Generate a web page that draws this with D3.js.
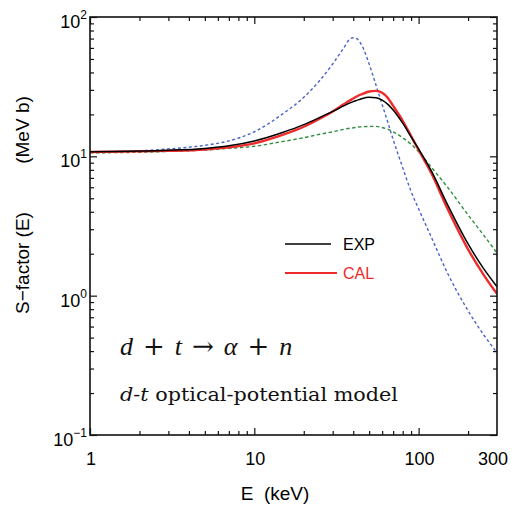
<!DOCTYPE html>
<html>
<head>
<meta charset="utf-8">
<script src="https://cdn.jsdelivr.net/npm/d3@7"></script>
<style>
  body { margin: 0; background: #fff; }
  svg { display: block; }
</style>
</head>
<body>
<svg id="chart" width="530" height="506"></svg>
<script>
// Centre-of-mass energy grid (keV)
const energy = [1, 2, 3, 5, 7, 10, 15, 20, 25, 30, 35, 38, 40, 42, 45, 50, 55, 60, 65, 70, 80, 90, 100, 120, 150, 200, 250, 300];

// S-factor (MeV b): experimental fit
const expS = [10.8, 10.9, 11.05, 11.4, 11.9, 12.9, 14.9, 16.9, 19.0, 21.0, 23.0, 24.1, 24.7, 25.2, 25.9, 26.5, 26.3, 25.3, 23.6, 21.5, 17.3, 13.8, 11.3, 7.8, 4.5, 2.35, 1.55, 1.16];
// S-factor (MeV b): optical-potential calculation
const calS = [10.75, 10.85, 10.95, 11.2, 11.6, 12.4, 14.3, 16.3, 18.6, 21.0, 23.6, 25.1, 26.0, 26.9, 27.9, 29.2, 29.5, 28.6, 26.2, 23.0, 18.0, 14.0, 11.1, 7.5, 4.2, 2.15, 1.40, 1.03];
// Dashed comparison curves
const blueS = [10.75, 10.95, 11.3, 12.0, 12.9, 15.0, 20.3, 26.5, 35, 46, 60, 69, 71, 70, 63, 46, 32.5, 23.5, 17.5, 13.2, 8.3, 5.6, 4.2, 2.6, 1.45, 0.78, 0.52, 0.39];
const greenS = [10.6, 10.7, 10.85, 11.1, 11.4, 11.8, 12.8, 13.6, 14.4, 15.0, 15.6, 15.9, 16.0, 16.2, 16.3, 16.4, 16.4, 16.1, 15.6, 15.0, 13.6, 12.2, 10.8, 8.3, 6.0, 3.8, 2.7, 2.02];

// Axis ticks
const xMajorTicks = [1, 10, 100];
const xMinorTicks = [2, 3, 4, 5, 6, 7, 8, 9, 20, 30, 40, 50, 60, 70, 80, 90, 200];
const xTickLabels = [{ v: 1, t: "1" }, { v: 10, t: "10" }, { v: 100, t: "100" }, { v: 300, t: "300" }];
const yMajorTicks = [0.1, 1, 10, 100];
const yMinorTicks = [];
[0.1, 1, 10].forEach(d => { for (let k = 2; k <= 9; k++) yMinorTicks.push(+(d * k).toPrecision(3)); });
const yExponents = ["\u22121", "0", "1", "2"];

const svg = d3.select("#chart");
const plotL = 90, plotR = 497, plotT = 17, plotB = 435;

const x = d3.scaleLog().domain([1, 300]).range([plotL, plotR]);
const y = d3.scaleLog().domain([0.1, 100]).range([plotB, plotT]);

const sansFont = "'Liberation Sans', Arial, sans-serif";
const serifFont = "'Liberation Serif', 'Times New Roman', serif";
const wideSerif = "'DejaVu Serif', 'Liberation Serif', serif";

svg.append("defs").append("clipPath").attr("id", "plotClip")
  .append("rect").attr("x", plotL).attr("y", plotT)
  .attr("width", plotR - plotL).attr("height", plotB - plotT);

// Curves
const line = (vals) => d3.line()
  .x((d, i) => x(energy[i]))
  .y(d => y(d))
  .curve(d3.curveMonotoneX)(vals);

const curves = svg.append("g").attr("clip-path", "url(#plotClip)").attr("fill", "none");
curves.append("path").attr("d", line(greenS))
  .attr("stroke", "#2f8f3f").attr("stroke-width", 1.4).attr("stroke-dasharray", "3.5,2.5");
curves.append("path").attr("d", line(blueS))
  .attr("stroke", "#4a64c8").attr("stroke-width", 1.4).attr("stroke-dasharray", "3,2.5");
curves.append("path").attr("d", line(calS))
  .attr("stroke", "#ee2a2a").attr("stroke-width", 2.4);
curves.append("path").attr("d", line(expS))
  .attr("stroke", "#000").attr("stroke-width", 1.5);

// Tick marks pointing inward on all four sides
function ticks(axisGen, scale, vals, size, transform) {
  const g = svg.append("g").attr("transform", transform)
    .call(axisGen(scale).tickValues(vals).tickSize(size).tickFormat(""));
  g.select(".domain").remove();
  g.selectAll(".tick line").attr("stroke", "#111").attr("stroke-width", 1.2);
}
ticks(d3.axisBottom, x, xMajorTicks, -7, `translate(0,${plotB})`);
ticks(d3.axisBottom, x, xMinorTicks, -4, `translate(0,${plotB})`);
ticks(d3.axisTop, x, xMajorTicks, -7, `translate(0,${plotT})`);
ticks(d3.axisTop, x, xMinorTicks, -4, `translate(0,${plotT})`);
ticks(d3.axisLeft, y, yMajorTicks, -7, `translate(${plotL},0)`);
ticks(d3.axisLeft, y, yMinorTicks, -4, `translate(${plotL},0)`);
ticks(d3.axisRight, y, yMajorTicks, -7, `translate(${plotR},0)`);
ticks(d3.axisRight, y, yMinorTicks, -4, `translate(${plotR},0)`);

// Frame
svg.append("rect").attr("x", plotL).attr("y", plotT)
  .attr("width", plotR - plotL).attr("height", plotB - plotT)
  .attr("fill", "none").attr("stroke", "#111").attr("stroke-width", 1.6);

// X tick labels
svg.append("g").selectAll("text").data(xTickLabels).join("text")
  .attr("x", d => x(d.v) + (d.v === 300 ? -4 : 1))
  .attr("y", 465)
  .attr("text-anchor", "middle")
  .attr("font-family", sansFont).attr("font-size", 18)
  .text(d => d.t);

// Y tick labels (powers of ten)
const yl = svg.append("g").selectAll("text").data(yMajorTicks).join("text")
  .attr("x", 87)
  .attr("y", d => y(d) + 11)
  .attr("text-anchor", "end")
  .attr("font-family", sansFont).attr("font-size", 18);
yl.append("tspan").text("10");
yl.append("tspan").attr("dy", -9).attr("font-size", 12).text((d, i) => yExponents[i]);

// Axis titles
svg.append("text").attr("x", 275).attr("y", 500)
  .attr("text-anchor", "middle").attr("font-family", sansFont).attr("font-size", 19)
  .attr("xml:space", "preserve")
  .text("E  (keV)");
svg.append("text").attr("transform", "translate(29,263) rotate(-90)")
  .attr("text-anchor", "middle").attr("font-family", sansFont).attr("font-size", 19)
  .text("S\u2212factor (E)");
svg.append("text").attr("transform", "translate(29,130) rotate(-90)")
  .attr("text-anchor", "middle").attr("font-family", sansFont).attr("font-size", 19)
  .text("(MeV b)");

// Legend
const legend = [{ name: "EXP", color: "#000", w: 1.5, len: 46, yy: 244 },
                { name: "CAL", color: "#ee2a2a", w: 1.8, len: 52, yy: 273 }];
const lg = svg.append("g").selectAll("g").data(legend).join("g");
lg.append("line").attr("x1", 285).attr("x2", d => 285 + d.len)
  .attr("y1", d => d.yy).attr("y2", d => d.yy)
  .attr("stroke", d => d.color).attr("stroke-width", d => d.w);
lg.append("text").attr("x", 343).attr("y", d => d.yy + 6)
  .attr("font-family", sansFont).attr("font-size", 16)
  .attr("fill", d => d.color).text(d => d.name);

// Reaction label: italic symbols, upright operators with wide math spacing
const reaction = [
  { s: "d", it: true, dx: 0 }, { s: "+", it: false, dx: 10 }, { s: "t", it: true, dx: 10 },
  { s: "\u2192", it: false, dx: 10 }, { s: "\u03b1", it: true, dx: 10 },
  { s: "+", it: false, dx: 10 }, { s: "n", it: true, dx: 10 }
];
const rx = svg.append("text").attr("x", 120).attr("y", 355)
  .attr("font-size", 26).attr("fill", "#111");
reaction.forEach(r => rx.append("tspan")
  .attr("dx", r.dx)
  .attr("font-family", r.it ? serifFont : wideSerif)
  .attr("font-style", r.it ? "italic" : "normal")
  .text(r.s));

// Model caption
const md = svg.append("text").attr("x", 120).attr("y", 401)
  .attr("font-family", wideSerif).attr("font-size", 18.5).attr("fill", "#111")
  .attr("xml:space", "preserve")
  .attr("textLength", 278).attr("lengthAdjust", "spacingAndGlyphs");
md.append("tspan").attr("font-style", "italic").text("d");
md.append("tspan").text("-");
md.append("tspan").attr("font-style", "italic").text("t");
md.append("tspan").text(" optical-potential model");
</script>
</body>
</html>
